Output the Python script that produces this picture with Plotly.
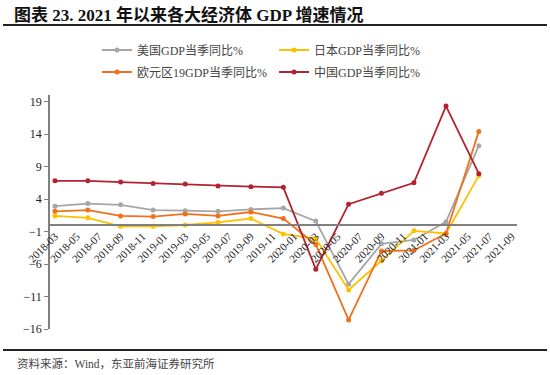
import plotly.graph_objects as go

# ---- data ----
quarters = ["2018-03-01", "2018-06-01", "2018-09-01", "2018-12-01",
            "2019-03-01", "2019-06-01", "2019-09-01", "2019-12-01",
            "2020-03-01", "2020-06-01", "2020-09-01", "2020-12-01",
            "2021-03-01", "2021-06-01"]
us = [2.9, 3.3, 3.1, 2.3, 2.2, 2.1, 2.4, 2.6, 0.6, -9.1, -2.9, -2.3, 0.5, 12.2]
japan = [1.4, 1.1, -0.2, -0.2, 0.0, 0.4, 1.0, -1.4, -2.1, -10.0, -5.5, -0.9, -1.3, 7.6]
euro = [2.1, 2.3, 1.4, 1.3, 1.7, 1.4, 2.0, 1.0, -3.0, -14.6, -4.0, -3.9, -1.3, 14.4]
china = [6.8, 6.8, 6.6, 6.4, 6.3, 6.0, 5.9, 5.8, -6.8, 3.2, 4.9, 6.5, 18.3, 7.9]

names = ["美国GDP当季同比%", "日本GDP当季同比%", "欧元区19GDP当季同比%", "中国GDP当季同比%"]
colors = ["#A6A6A6", "#FFC000", "#F0701E", "#B3232F"]

title_text = "图表 23. 2021 年以来各大经济体 GDP 增速情况"
source_text = "资料来源：Wind，东亚前海证券研究所"

y_min, y_max = -16, 20
x_range = ["2018-02-15", "2021-09-16"]

W, H = 550, 375
L, R, T, B = 50, 33, 95, 46
pw, ph = W - L - R, H - T - B

def px_x(px):
    return (px - L) / pw

def px_y(py):
    return (H - B - py) / ph

FONT = "Liberation Serif, Times New Roman, Noto Sans CJK SC, serif"

fig = go.Figure()
series = [us, japan, euro, china]
legend_ids = ["legend", "legend", "legend2", "legend2"]
for vals, nm, col, lg in zip(series, names, colors, legend_ids):
    fig.add_trace(go.Scatter(
        x=quarters, y=vals, name=nm, mode="lines+markers",
        line=dict(color=col, width=1.8),
        marker=dict(color=col, size=5),
        legend=lg,
    ))

zero_pos = (0 - y_min) / (y_max - y_min)

legend_common = dict(orientation="h", xref="paper", yref="paper",
                     xanchor="left", yanchor="middle",
                     entrywidth=132, entrywidthmode="pixels",
                     font=dict(size=12, family=FONT, color="#444444"),
                     bgcolor="rgba(0,0,0,0)", itemwidth=30, tracegroupgap=0)

fig.update_layout(
    width=W, height=H,
    margin=dict(l=L, r=R, t=T, b=B),
    paper_bgcolor="white", plot_bgcolor="white",
    font=dict(family=FONT, size=11, color="#222222"),
    showlegend=True,
    title=dict(text="<b>" + title_text + "</b>", x=14 / W, xanchor="left",
               xref="container", yref="container", y=1 - 15 / H, yanchor="middle",
               font=dict(size=17, color="#111111", family=FONT)),
    legend=dict(legend_common, x=px_x(97), y=px_y(50)),
    legend2=dict(legend_common, x=px_x(97), y=px_y(72)),
    xaxis=dict(type="date", range=x_range, tick0="2018-03-01", dtick="M2",
               tickformat="%Y-%m", tickangle=-45, showgrid=False,
               anchor="free", position=zero_pos, showline=True,
               linecolor="#808080", linewidth=1.5, ticks="",
               tickfont=dict(size=11, family=FONT, color="#222222"),
               zeroline=False),
    yaxis=dict(range=[y_min, y_max], tick0=y_min, dtick=5, showgrid=False,
               zeroline=False, showline=True, linecolor="#808080", linewidth=1.5,
               ticks="outside", ticklen=4, tickcolor="#808080",
               tickfont=dict(size=12, family=FONT, color="#222222")),
    shapes=[
        dict(type="line", xref="paper", yref="paper", layer="above",
             x0=px_x(3), x1=px_x(547), y0=px_y(25), y1=px_y(25),
             line=dict(color="#222222", width=2)),
        dict(type="line", xref="paper", yref="paper", layer="above",
             x0=px_x(3), x1=px_x(547), y0=px_y(350), y1=px_y(350),
             line=dict(color="#222222", width=2)),
    ],
    annotations=[
        dict(text=source_text, xref="paper", yref="paper",
             x=px_x(15), y=px_y(363), xanchor="left", yanchor="middle",
             showarrow=False, font=dict(size=11.5, family=FONT, color="#444444")),
    ],
)

fig.write_html("out.html", config={"displayModeBar": False},
               post_script="document.body.style.margin='0';")
